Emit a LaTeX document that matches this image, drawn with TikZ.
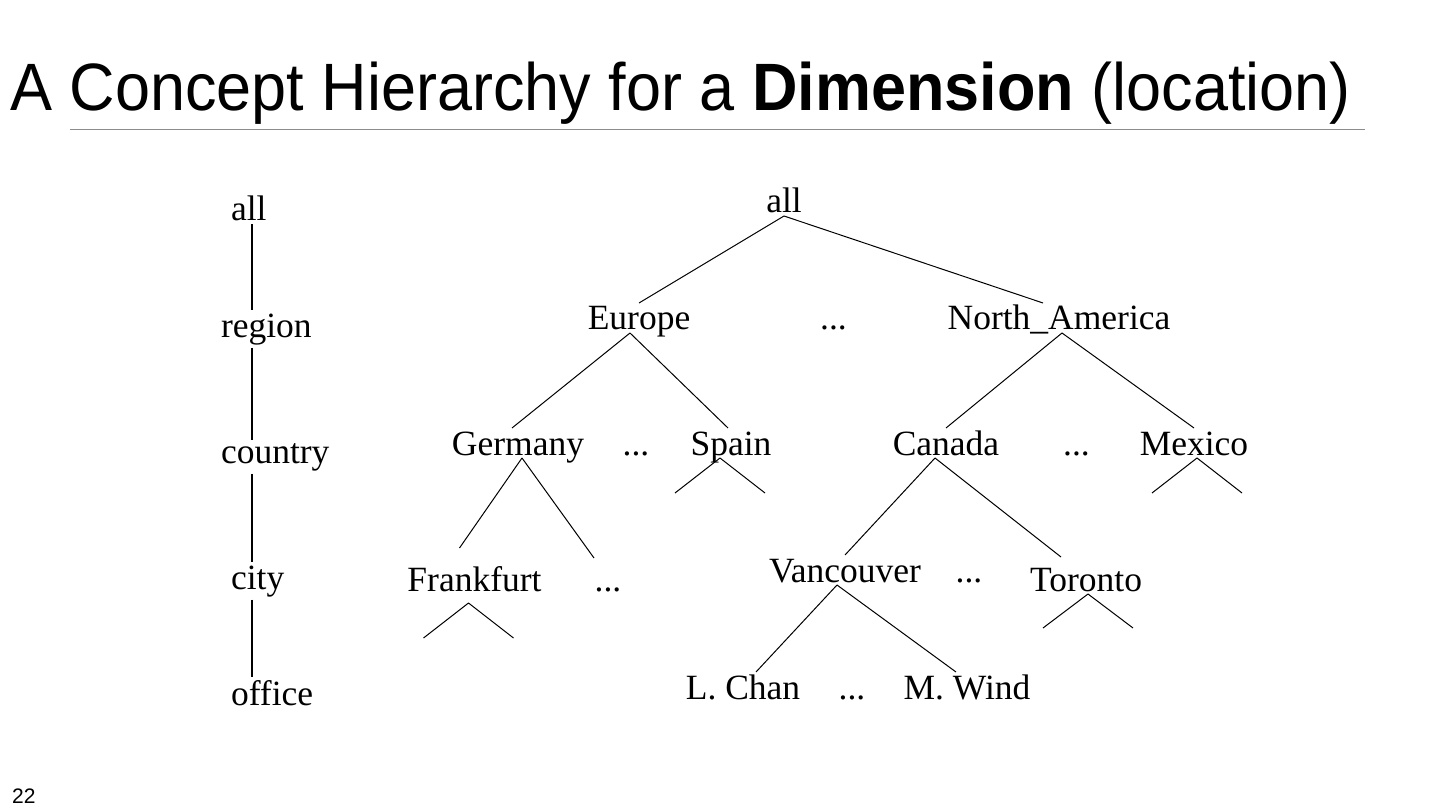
\documentclass[tikz,border=0pt]{standalone}
\usepackage{fontspec}
\setmainfont{Liberation Serif}
\newfontfamily\titlefont{Liberation Sans}
\usetikzlibrary{calc}

\begin{document}
\begin{tikzpicture}[x=1pt, y=-1pt,
    lbl/.style={anchor=base, inner sep=0pt, outer sep=3pt, text depth=0pt,
                text height=24pt, font=\fontsize{35.5}{40}\selectfont},
    lvl/.style={anchor=base west, inner sep=0pt, outer sep=3pt,
                font=\fontsize{35.5}{40}\selectfont},
    edge/.style={line width=1pt},
    spine/.style={line width=2pt}
  ]
  \fill[white] (0,0) rectangle (1440,810);
  \useasboundingbox (0,0) rectangle (1440,810);

  % title and rule
  \node[anchor=base west, inner sep=0pt,
        font=\titlefont\fontsize{67}{72}\selectfont] (title) at (10,111)
    {\scalebox{0.94}[1]{A Concept Hierarchy for a \textbf{Dimension} (location)}};
  \coordinate (ruleL) at (70,130);
  \coordinate (ruleR) at (1365,130);
  \draw[black!45, line width=1pt] (ruleL) -- (ruleR);
  \node[anchor=base west, inner sep=0pt,
        font=\titlefont\fontsize{21}{24}\selectfont] (pageno) at (12,803) {22};

  % schema levels
  \node[lvl] (lall)     at (228,221) {all};
  \node[lvl] (lregion)  at (218,337) {region};
  \node[lvl] (lcountry) at (218,463) {country};
  \node[lvl] (lcity)    at (228,589) {city};
  \node[lvl] (loffice)  at (228,705) {office};
  \coordinate (axis) at (252,0);
  \draw[spine] (lall.south -| axis)     -- (lregion.north -| axis);
  \draw[spine] (lregion.south -| axis)  -- (lcountry.north -| axis);
  \draw[spine] (lcountry.south -| axis) -- (lcity.north -| axis);
  \draw[spine] (lcity.south -| axis)    -- (loffice.north -| axis);

  % instance tree
  \node[lbl] (top)       at (784,213)   {all};
  \node[lbl] (europe)    at (639,330)   {Europe};
  \node[lbl] (rdots)     at (833.5,330) {...};
  \node[lbl] (namerica)  at (1059,330)  {North\_America};
  \node[lbl] (germany)   at (518,455)   {Germany};
  \node[lbl] (gdots)     at (636,455)   {...};
  \node[lbl] (spain)     at (731,455)   {Spain};
  \node[lbl] (canada)    at (946,455)   {Canada};
  \node[lbl] (cdots)     at (1076.5,455){...};
  \node[lbl] (mexico)    at (1194,455)  {Mexico};
  \node[lbl] (frankfurt) at (474.5,591) {Frankfurt};
  \node[lbl] (fdots)     at (608,591)   {...};
  \node[lbl] (vancouver) at (845,582)   {Vancouver};
  \node[lbl] (vdots)     at (969,582)   {...};
  \node[lbl] (toronto)   at (1086,591)  {Toronto};
  \node[lbl] (lchan)     at (743,699)   {L. Chan};
  \node[lbl] (odots)     at (852,699)   {...};
  \node[lbl] (mwind)     at (967,699)   {M. Wind};

  \draw[edge] (top.south) -- (europe.north);
  \draw[edge] (top.south) -- ([xshift=-16pt]namerica.north);
  \draw[edge] ([xshift=-9pt]europe.south) -- ([xshift=-6pt]germany.north);
  \draw[edge] ([xshift=-9pt]europe.south) -- ([xshift=-3pt]spain.north);
  \draw[edge] ([xshift=3pt]namerica.south) -- (canada.north);
  \draw[edge] ([xshift=3pt]namerica.south) -- (mexico.north);
  \draw[edge] ([xshift=4pt]germany.south) -- ([xshift=-15pt,yshift=16pt]frankfurt.north);
  \draw[edge] ([xshift=4pt]germany.south) -- ([xshift=-14pt,yshift=6pt]fdots.north);
  \draw[edge] ([xshift=-11pt]canada.south) -- (vancouver.north);
  \draw[edge] ([xshift=-11pt]canada.south) -- ([xshift=-25pt,yshift=7pt]toronto.north);
  \draw[edge] ([xshift=-8pt]vancouver.south) -- ([xshift=13pt]lchan.north);
  \draw[edge] ([xshift=-8pt]vancouver.south) -- ([xshift=-11pt]mwind.north);

  % collapsed subtrees
  \foreach \n/\dx/\dy/\h in {spain/-11/0/35, mexico/3/0/35,
                             frankfurt/-6/-9/35, toronto/2/0/34}
    \draw[edge] ([xshift=\dx pt, yshift=\dy pt]\n.south) coordinate (\n-apex)
      +(-45,\h) coordinate (\n-l) (\n-apex) -- (\n-l)
      (\n-apex) -- +(45,\h) coordinate (\n-r);
\end{tikzpicture}
\end{document}
